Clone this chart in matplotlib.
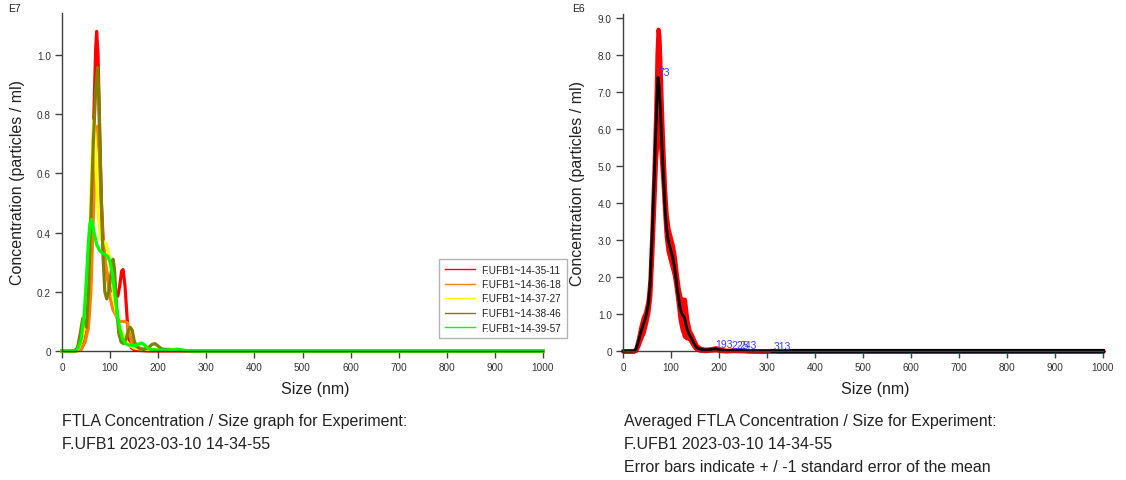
import matplotlib
matplotlib.use("Agg")
import matplotlib.pyplot as plt

plt.rcParams['font.family'] = ['Liberation Sans', 'DejaVu Sans']

# ---------------- data: left chart (E7 particles / ml) ----------------
series_names = ["F.UFB1~14-35-11", "F.UFB1~14-36-18", "F.UFB1~14-37-27",
                "F.UFB1~14-38-46", "F.UFB1~14-39-57"]
series_colors = ["#ff0000", "#ff8000", "#ffff00", "#808000", "#00ff00"]

red_x = [0, 30, 38, 44, 50, 54, 58, 62, 66, 70, 72, 75, 78, 82, 86, 90, 96, 102, 110, 116,
         120, 124, 127, 131, 135, 139, 144, 150, 160, 180, 1000]
red_y = [0, 0, 0.01, 0.04, 0.063, 0.075, 0.2, 0.45, 0.78, 1.02, 1.08, 1.0, 0.75, 0.5, 0.36,
         0.29, 0.24, 0.21, 0.19, 0.185, 0.22, 0.27, 0.275, 0.22, 0.12, 0.04, 0.012, 0.004,
         0.002, 0, 0]

orange_x = [0, 30, 40, 48, 55, 60, 65, 70, 74, 77, 80, 84, 88, 92, 96, 100, 106, 112, 118,
            124, 130, 136, 140, 145, 152, 165, 200, 240, 270, 290, 1000]
orange_y = [0, 0, 0.005, 0.03, 0.08, 0.2, 0.45, 0.68, 0.76, 0.7, 0.55, 0.4, 0.33, 0.28, 0.23,
            0.18, 0.14, 0.12, 0.1, 0.1, 0.1, 0.095, 0.06, 0.03, 0.015, 0.008, 0.004, 0.003,
            0.001, 0, 0]

yellow_x = [0, 28, 35, 42, 48, 54, 58, 62, 66, 69, 72, 76, 80, 86, 92, 97, 102, 108, 114,
            120, 128, 135, 142, 150, 165, 190, 220, 235, 260, 280, 1000]
yellow_y = [0, 0, 0.01, 0.04, 0.09, 0.2, 0.4, 0.62, 0.78, 0.72, 0.58, 0.45, 0.38, 0.37,
            0.36, 0.33, 0.27, 0.18, 0.12, 0.08, 0.05, 0.03, 0.018, 0.01, 0.006, 0.005, 0.008,
            0.004, 0.001, 0, 0]

olive_x = [0, 25, 32, 38, 43, 47, 51, 55, 60, 65, 70, 74, 77, 81, 85, 89, 93, 97, 101, 106,
           109, 113, 118, 123, 128, 133, 138, 142, 146, 150, 155, 162, 170, 180, 187, 193,
           199, 206, 215, 230, 245, 260, 1000]
olive_y = [0, 0, 0.01, 0.06, 0.11, 0.1, 0.08, 0.2, 0.45, 0.7, 0.88, 0.958, 0.85, 0.55, 0.33,
           0.2, 0.176, 0.2, 0.25, 0.31, 0.28, 0.16, 0.06, 0.03, 0.025, 0.04, 0.07, 0.08, 0.07,
           0.035, 0.015, 0.008, 0.005, 0.012, 0.022, 0.025, 0.018, 0.008, 0.004, 0.004,
           0.002, 0, 0]

green_x = [0, 28, 34, 40, 46, 51, 55, 58, 61, 64, 68, 72, 78, 84, 90, 95, 100, 105, 110, 115,
           120, 126, 132, 138, 145, 152, 160, 166, 172, 178, 185, 200, 225, 238, 245, 255,
           270, 1000]
green_y = [0, 0, 0.01, 0.04, 0.12, 0.25, 0.37, 0.43, 0.445, 0.42, 0.39, 0.36, 0.34, 0.33,
           0.325, 0.32, 0.3, 0.26, 0.19, 0.125, 0.075, 0.04, 0.025, 0.02, 0.02, 0.018, 0.024,
           0.027, 0.02, 0.01, 0.005, 0.003, 0.003, 0.006, 0.005, 0.002, 0, 0]

# ---------------- data: right chart (E6 particles / ml) ----------------
avg_x = [0, 22, 27, 32, 37, 42, 47, 52, 56, 60, 64, 68, 71, 73, 75, 78, 81, 84, 87, 90, 94,
         98, 103, 107, 111, 115, 119, 123, 128, 133, 138, 143, 148, 153, 160, 170, 182, 193,
         203, 215, 228, 243, 260, 290, 313, 340, 1000]
avg_y = [0, 0, 0.05, 0.25, 0.5, 0.7, 0.9, 1.2, 1.7, 2.9, 4.3, 5.8, 6.9, 7.4, 7.2, 6.5, 5.6,
         4.8, 4.0, 3.4, 3.0, 2.8, 2.55, 2.3, 1.9, 1.5, 1.15, 1.0, 0.9, 0.6, 0.45, 0.33, 0.2,
         0.1, 0.05, 0.03, 0.04, 0.06, 0.03, 0.01, 0.02, 0.015, 0.005, 0.002, 0.005, 0, 0]
avg_sem = [0, 0, 0.03, 0.08, 0.15, 0.2, 0.15, 0.15, 0.2, 0.3, 0.4, 0.6, 1.2, 1.3, 1.3, 0.9,
           0.6, 0.4, 0.3, 0.3, 0.3, 0.3, 0.3, 0.25, 0.2, 0.2, 0.3, 0.4, 0.5, 0.25, 0.1, 0.1,
           0.08, 0.05, 0.03, 0.02, 0.02, 0.03, 0.02, 0.01, 0.01, 0.01, 0.005, 0, 0, 0, 0]

peak_sizes = [73, 193, 225, 243, 313]
peak_values = [7.4, 0.06, 0.02, 0.015, 0.005]
peak_labels = ["73", "193", "225", "243", "313"]

x_ticks = [0, 100, 200, 300, 400, 500, 600, 700, 800, 900, 1000]
left_yticks = [0, 0.2, 0.4, 0.6, 0.8, 1.0]
left_yticklabels = ["0", "0.2", "0.4", "0.6", "0.8", "1.0"]
right_yticks = [0, 1, 2, 3, 4, 5, 6, 7, 8, 9]
right_yticklabels = ["0", "1.0", "2.0", "3.0", "4.0", "5.0", "6.0", "7.0", "8.0", "9.0"]

# ---------------- figure ----------------
W, H = 1126, 481
fig = plt.figure(figsize=(W / 100, H / 100), dpi=100)

def px_axes(x0, x1, ytop, ybot):
    return fig.add_axes([x0 / W, 1 - ybot / H, (x1 - x0) / W, (ybot - ytop) / H])

TXT = "#222222"
SPINE = "#404040"

def style_axes(ax, ylab_x):
    for s in ("top", "right"):
        ax.spines[s].set_visible(False)
    for s in ("left", "bottom"):
        ax.spines[s].set_color(SPINE)
        ax.spines[s].set_linewidth(1.0)
    ax.tick_params(direction="out", length=5, width=1, color=SPINE, labelsize=7.2,
                   labelcolor="#333333", pad=3)
    ax.set_xlim(0, 1000)
    ax.set_xticks(x_ticks)
    ax.set_xticklabels([str(t) for t in x_ticks])
    ax.set_xlabel("Size (nm)", fontsize=11.5, color=TXT)
    ax.xaxis.set_label_coords(0.526, -0.09)
    ax.set_ylabel("Concentration (particles / ml)", fontsize=11.5, color=TXT)
    ax.yaxis.set_label_coords(ylab_x, 0.5)

# left axes
ax1 = px_axes(62, 543, 14, 352)
style_axes(ax1, -0.077)
ax1.set_ylim(0, 1.142)
ax1.set_yticks(left_yticks)
ax1.set_yticklabels(left_yticklabels)
xs = [red_x, orange_x, yellow_x, olive_x, green_x]
ys = [red_y, orange_y, yellow_y, olive_y, green_y]
handles = []
for x, y, c, n in zip(xs, ys, series_colors, series_names):
    ax1.plot(x, y, color=c, lw=2.3, solid_joinstyle="round", clip_on=False)
    h, = ax1.plot([], [], color=c, lw=1.0, label=n)
    handles.append(h)
leg = fig.legend(handles=handles, loc="upper left", bbox_to_anchor=(439 / W, 1 - 260 / H),
                 fontsize=7.2, frameon=True, fancybox=False, edgecolor="#a0a0a0",
                 handlelength=3.0, handletextpad=0.7, labelspacing=0.45, borderpad=0.55,
                 borderaxespad=0)
leg.get_frame().set_linewidth(1.0)
for t in leg.get_texts():
    t.set_color(TXT)
fig.text(8 / W, 1 - 4 / H, "E7", fontsize=7.5, color=TXT, ha="left", va="top")

# right axes
ax2 = px_axes(623, 1103, 15, 352)
style_axes(ax2, -0.079)
ax2.set_ylim(0, 9.11)
ax2.set_yticks(right_yticks)
ax2.set_yticklabels(right_yticklabels)
lo = [m - s for m, s in zip(avg_y, avg_sem)]
hi = [m + s for m, s in zip(avg_y, avg_sem)]
ax2.fill_between(avg_x, lo, hi, color="#ff0000", lw=3.0, edgecolor="#ff0000", clip_on=False)
ax2.plot(avg_x, avg_y, color="black", lw=2.0, solid_joinstyle="round", clip_on=False)
ax2.plot([avg_x[-3], avg_x[-1]], [0, 0], color="black", lw=3.0, clip_on=False)
for px_, pv, pl in zip(peak_sizes, peak_values, peak_labels):
    ax2.text(px_, pv, pl, color="#3a3aff", fontsize=7.5, ha="left", va="bottom")
fig.text(572 / W, 1 - 4 / H, "E6", fontsize=7.5, color=TXT, ha="left", va="top")

# captions
left_caption = ["FTLA Concentration / Size graph for Experiment:", "F.UFB1 2023-03-10 14-34-55"]
right_caption = ["Averaged FTLA Concentration / Size for Experiment:",
                 "F.UFB1 2023-03-10 14-34-55",
                 "Error bars indicate + / -1 standard error of the mean"]
baselines = [426.5, 449.5, 472.5]
for i, line in enumerate(left_caption):
    fig.text(62 / W, 1 - baselines[i] / H, line, fontsize=11.5, color=TXT, ha="left",
             va="baseline")
for i, line in enumerate(right_caption):
    fig.text(624 / W, 1 - baselines[i] / H, line, fontsize=11.5, color=TXT, ha="left",
             va="baseline")

fig.savefig("out.png", dpi=100)
